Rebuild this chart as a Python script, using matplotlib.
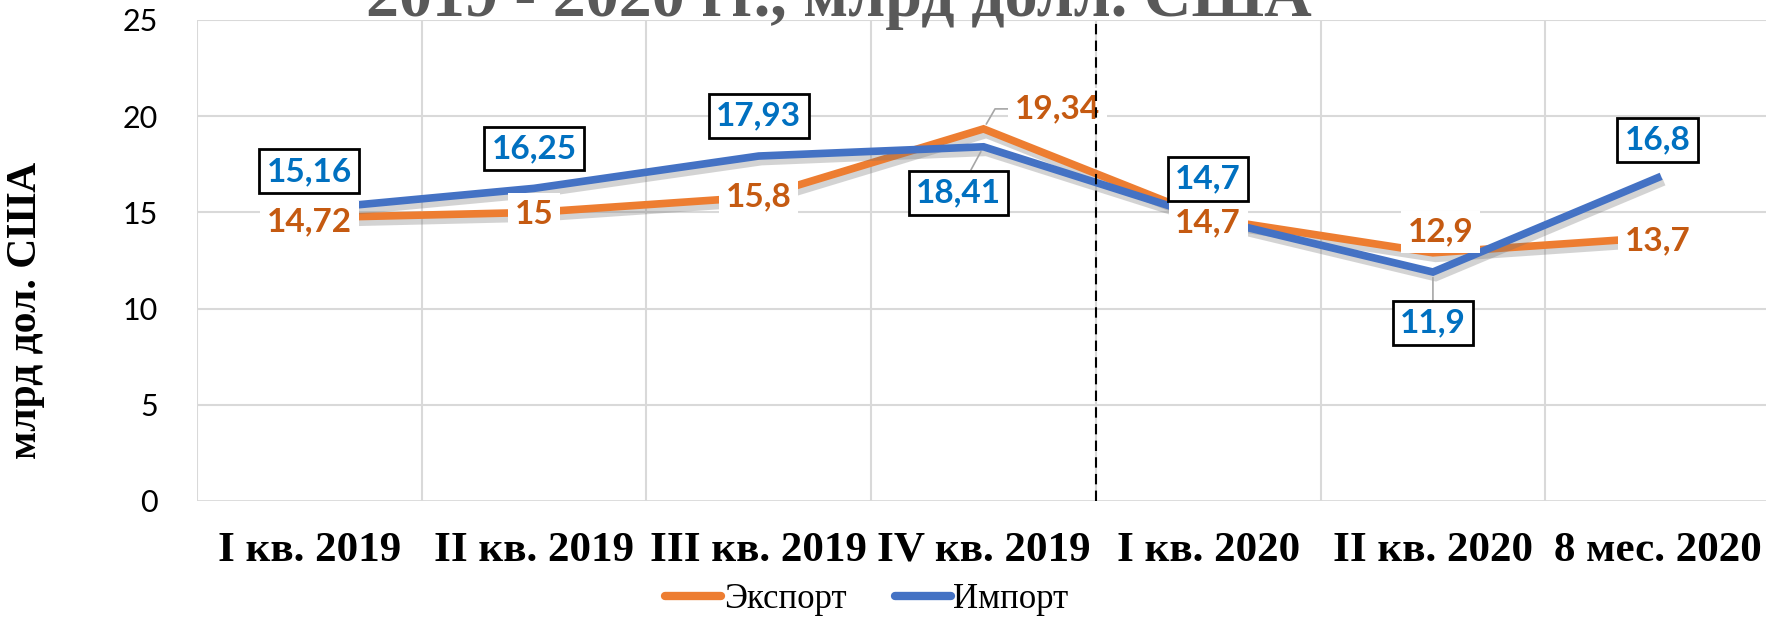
import matplotlib.pyplot as plt
import matplotlib.patheffects as pe

# данные
categories = ['I кв. 2019', 'II кв. 2019', 'III кв. 2019', 'IV кв. 2019',
              'I кв. 2020', 'II кв. 2020', '8 мес. 2020']
export = [14.72, 15.0, 15.8, 19.34, 14.7, 12.9, 13.7]
imports = [15.16, 16.25, 17.93, 18.41, 14.7, 11.9, 16.8]
export_labels = ['14,72', '15', '15,8', '19,34', '14,7', '12,9', '13,7']
import_labels = ['15,16', '16,25', '17,93', '18,41', '14,7', '11,9', '16,8']

# смещения подписей (пиксели)
export_off = [(0, -4), (0, -2), (0, 0), (74, 20), (0, -5), (8, 21), (0, -3)]
import_off = [(0, 38), (0, 40), (0, 40), (-25, -46), (0, 39), (0, -51), (0, 38)]

c_exp = '#ED7D31'
c_imp = '#4472C4'
c_exp_txt = '#C55A11'
c_imp_txt = '#0070C0'
grid_c = '#D9D9D9'

fig = plt.figure(figsize=(17.66, 6.22), dpi=100)
ax = fig.add_axes([197 / 1766, 1 - 501 / 622, 1573 / 1766, 481 / 622])

x = list(range(len(categories)))
shadow = [pe.SimpleLineShadow(offset=(2, -4), shadow_color='#707070', alpha=0.3), pe.Normal()]
ax.plot(x, export, color=c_exp, lw=5.5, solid_joinstyle='miter', zorder=3,
        path_effects=shadow, label='Экспорт')
ax.plot(x, imports, color=c_imp, lw=5.5, solid_joinstyle='miter', zorder=4,
        path_effects=shadow, label='Импорт')

ax.set_xlim(-0.5, len(categories) - 0.5)
ax.set_ylim(0, 25)
ax.set_yticks(range(0, 26, 5))
ax.set_xticks(x)
ax.set_xticklabels(categories, fontfamily='Liberation Serif', fontweight='bold', fontsize=31)
ax.tick_params(axis='x', length=0, pad=22)
ax.tick_params(axis='y', length=0, pad=28, labelsize=22)
for t in ax.get_yticklabels():
    t.set_fontfamily('Lato')

# сетка
for v in range(0, 26, 5):
    ax.axhline(v, color=grid_c, lw=2 if v == 0 else 1.5, zorder=1)
for b in [i - 0.5 for i in range(len(categories))]:
    ax.axvline(b, color=grid_c, lw=1.5, zorder=1)
for s in ax.spines.values():
    s.set_visible(False)

ax.axvline(3.5, color='black', lw=1.5, ls=(0, (5, 3)), zorder=6)

# подписи данных
for i in x:
    dx, dy = export_off[i]
    arrow = None
    if abs(dx) > 20:
        arrow = dict(arrowstyle='-', color='#A6A6A6', lw=1.2, shrinkA=0, shrinkB=4,
                     connectionstyle='angle,angleA=0,angleB=60,rad=0')
    ax.annotate(export_labels[i], (i, export[i]), xytext=(dx, dy), textcoords='offset pixels',
                ha='center', va='center', fontsize=24, fontweight='bold', fontfamily='Lato',
                color=c_exp_txt, zorder=5, arrowprops=arrow,
                bbox=dict(boxstyle='square,pad=0.2', fc='white', ec='none'))
for i in x:
    dx, dy = import_off[i]
    arrow = None
    if dy < 0:
        arrow = dict(arrowstyle='-', color='#A6A6A6', lw=1.2, shrinkA=0, shrinkB=4)
    ax.annotate(import_labels[i], (i, imports[i]), xytext=(dx, dy), textcoords='offset pixels',
                ha='center', va='center', fontsize=24, fontweight='bold', fontfamily='Lato',
                color=c_imp_txt, zorder=5, arrowprops=arrow,
                bbox=dict(boxstyle='square,pad=0.22', fc='white', ec='black', lw=2))

ax.set_ylabel('млрд дол. США', fontfamily='Liberation Serif', fontweight='bold', fontsize=30)
ax.yaxis.set_label_coords(-(197 - 45) / 1573, 0.5 + (501 - 310 - 240.5) / 481)

fig.text(839 / 1766, 1 - 16 / 622, '2019 - 2020 гг., млрд долл. США', ha='center', va='baseline',
         fontfamily='Liberation Serif', fontweight='bold', fontsize=47.5, color='#595959')

leg = fig.legend(loc='center', bbox_to_anchor=(867 / 1766, 1 - 600 / 622), ncol=2, frameon=False,
                 prop={'family': 'Liberation Serif', 'size': 25}, handlelength=1.6,
                 handletextpad=0.08, columnspacing=1.4, borderaxespad=0)
for h in leg.get_lines():
    h.set_linewidth(6)
    h.set_solid_capstyle('round')
    h.set_path_effects([])

fig.savefig('out.png', dpi=100)
